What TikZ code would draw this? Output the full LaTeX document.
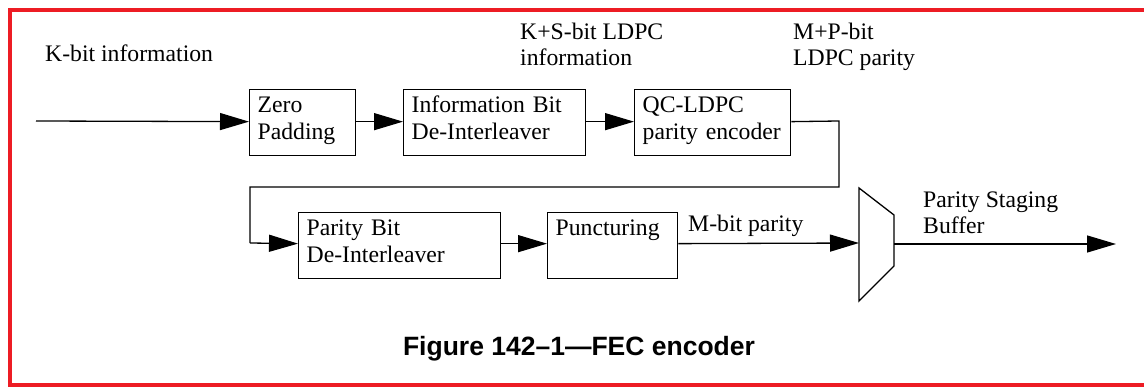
\documentclass[tikz,border=0pt]{standalone}
\usepackage{fontspec}
\setmainfont{Liberation Serif}
\newfontfamily\capfont{Liberation Sans}
\usetikzlibrary{arrows.meta}
\definecolor{framered}{RGB}{237,28,36}
\begin{document}
\begin{tikzpicture}[x=1pt,y=-1pt,
  every node/.style={font=\fontsize{23.7}{26.5}\selectfont},
  blk/.style={draw,line width=1.3pt,anchor=north west,align=left,inner xsep=8pt,inner ysep=3pt,text height=20pt,text depth=40pt},
  lbl/.style={anchor=base west,align=left,inner sep=0pt},
  conn/.style={line width=1.3pt},
  arr/.style={conn,-{Triangle[length=29pt,width=17pt]}}]
\useasboundingbox (0,0) rectangle (1144,387);
% frame
\draw[framered,line width=4pt] (1150,10.5) -- (9.5,10.5) -- (9.5,385.5) -- (1150,385.5);
% boxes
\node[blk,text width=90pt] (zp) at (249,89) {Zero\\Padding};
\node[blk,text width=166pt] (ib) at (403,89) {Information Bit\\De-Interleaver};
\node[blk,text width=140pt] (qc) at (634,89) {QC-LDPC\\parity encoder};
\node[blk,text width=186pt] (pb) at (298,212) {Parity Bit\\De-Interleaver};
\node[blk,text width=114pt] (pc) at (547,212) {Puncturing\\\strut};
% mux
\coordinate (m1) at (859,188);
\coordinate (m2) at (894,215);
\coordinate (m3) at (894,266);
\coordinate (m4) at (859,301);
\draw[line width=1.3pt] (m1) -- (m2) -- (m3) -- (m4) -- cycle;
\coordinate (muxin) at (859,243);
\coordinate (muxout) at (894,244);
% connector coordinates
\coordinate (in) at (36,121);
\coordinate (t1) at (839,121);
\coordinate (t2) at (839,187);
\coordinate (t3) at (250,187);
\coordinate (t4) at (250,243);
\coordinate (out) at (1116,244);
% connectors
\draw[arr] (in) -- ([yshift=1pt]zp.west);
\draw[arr] ([yshift=1pt]zp.east) -- ([yshift=1pt]ib.west);
\draw[arr] ([yshift=1pt]ib.east) -- ([yshift=1pt]qc.west);
\draw[conn] ([yshift=1pt]qc.east) -- (t1) -- (t2) -- (t3) -- (t4);
\draw[arr] (t4) -- ([yshift=2pt]pb.west);
\draw[arr] ([yshift=2pt]pb.east) -- ([yshift=2pt]pc.west);
\draw[arr] ([yshift=2pt]pc.east) -- (muxin);
\draw[arr] (muxout) -- (out);
% labels (multi-line: base = last line)
\node[lbl] (lk) at (45,62) {K-bit information};
\node[lbl] (lks) at (520,66) {K+S-bit LDPC\\information};
\node[lbl] (lmp) at (793,66) {M+P-bit\\LDPC parity};
\node[lbl] (lm) at (688,232) {M-bit parity};
\node[lbl] (lps) at (923,234) {Parity Staging\\Buffer};
\node[anchor=base,inner sep=0pt,font=\capfont\bfseries\fontsize{26.5}{30}\selectfont] (cap) at (579,356) {Figure 142–1—FEC encoder};
\end{tikzpicture}
\end{document}
